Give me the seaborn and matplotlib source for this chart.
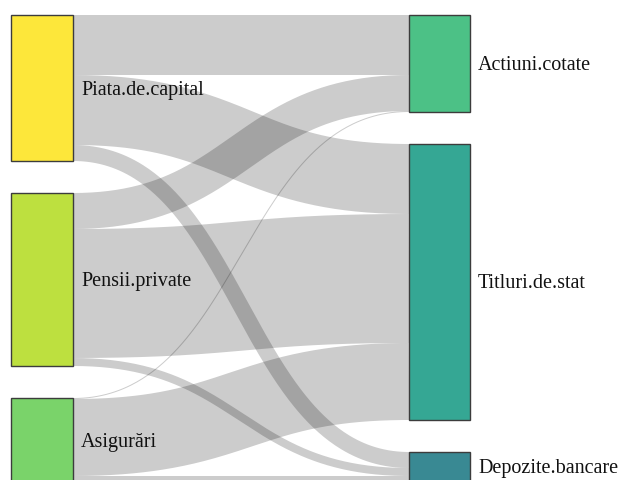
import numpy as np
import matplotlib
matplotlib.use('Agg')
import matplotlib.pyplot as plt
from matplotlib.patches import Rectangle
import seaborn as sns

# date
left_nodes = ['Piata.de.capital', 'Pensii.private', 'Asigurări']
right_nodes = ['Actiuni.cotate', 'Titluri.de.stat', 'Depozite.bancare']
link_source = ['Piata.de.capital'] * 3 + ['Pensii.private'] * 3 + ['Asigurări'] * 3
link_target = right_nodes * 3
link_value = [60, 70, 16, 36, 129, 8, 1, 77, 6]
node_colors = ['#fde73a', '#bde03f', '#7ad36a', '#4cc186', '#35a794', '#398993']

sns.set_theme(style='white')
plt.rcParams['font.family'] = ['Liberation Serif', 'DejaVu Serif']

W, H, DPI = 622, 480, 100
fig = plt.figure(figsize=(W / DPI, H / DPI), dpi=DPI)
ax = fig.add_axes([0, 0, 1, 1])
ax.set_xlim(0, W)
ax.set_ylim(H, 0)
ax.axis('off')

# layout
top, pad = 15, 32
col_x = {0: (11, 73), 1: (409, 470)}


def node_sizes(names, key):
    out = {}
    for n in names:
        out[n] = sum(v for s, t, v in zip(link_source, link_target, link_value)
                     if (s if key == 'src' else t) == n)
    return out


pos = {}
for col, names, key in [(0, left_nodes, 'src'), (1, right_nodes, 'tgt')]:
    sizes = node_sizes(names, key)
    y = top
    for n in names:
        pos[n] = (col, y, y + sizes[n])
        y += sizes[n] + pad

all_nodes = left_nodes + right_nodes
colors = dict(zip(all_nodes, node_colors))

# links
out_off = {n: pos[n][1] for n in left_nodes}
in_off = {n: pos[n][1] for n in right_nodes}
t = np.linspace(0, 1, 200)
for s, tg, v in zip(link_source, link_target, link_value):
    x0 = col_x[0][1]
    x1 = col_x[1][0]
    y0 = out_off[s] + v / 2
    y1 = in_off[tg] + v / 2
    out_off[s] += v
    in_off[tg] += v
    xm = (x0 + x1) / 2
    bx = (1 - t) ** 3 * x0 + 3 * (1 - t) ** 2 * t * xm + 3 * (1 - t) * t ** 2 * xm + t ** 3 * x1
    by = (1 - t) ** 3 * y0 + 3 * (1 - t) ** 2 * t * y0 + 3 * (1 - t) * t ** 2 * y1 + t ** 3 * y1
    ax.plot(bx, by, color='black', alpha=0.2, lw=v * 72 / DPI,
            solid_capstyle='butt', zorder=1)

# noduri
for n in all_nodes:
    col, ya, yb = pos[n]
    xa, xb = col_x[col]
    ax.add_patch(Rectangle((xa, ya), xb - xa, yb - ya, facecolor=colors[n],
                           edgecolor='#3c3c3c', lw=1, zorder=2))
    ax.text(xb + 8, (ya + yb) / 2 + 6.5, n, fontsize=14.5, color='#111111',
            va='baseline', ha='left', zorder=3)

fig.savefig('out.png', dpi=DPI)
